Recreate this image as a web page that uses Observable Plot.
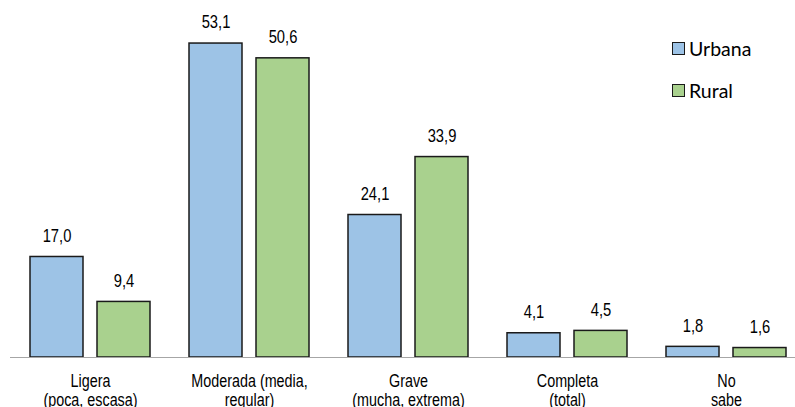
<!DOCTYPE html>
<html>
<head>
<meta charset="utf-8">
<script src="https://cdn.jsdelivr.net/npm/d3@7"></script>
<script src="https://cdn.jsdelivr.net/npm/@observablehq/plot@0.6"></script>
<style>
  html, body { margin: 0; padding: 0; background: #fff; }
  #wrap { position: relative; width: 795px; height: 407px; overflow: hidden; }
  #legend { position: absolute; left: 672px; top: 34px; font-family: Lato, "Open Sans", sans-serif; font-size: 19.5px; color: #000; }
  .li { display: flex; align-items: center; height: 28px; margin-bottom: 14px; }
  .sw { width: 11px; height: 11px; border: 1.6px solid #1a1a1a; margin-right: 4px; }
</style>
</head>
<body>
<div id="wrap"><div id="legend"></div></div>
<script>
const categories = ["Ligera\n(poca, escasa)", "Moderada (media,\nregular)", "Grave\n(mucha, extrema)", "Completa\n(total)", "No\nsabe"];
const seriesNames = ["Urbana", "Rural"];
const urbana = [17.0, 53.1, 24.1, 4.1, 1.8];
const rural = [9.4, 50.6, 33.9, 4.5, 1.6];
const colors = ["#9dc3e6", "#a9d18e"];

const rowsU = categories.map((c, i) => ({cat: c, value: urbana[i]}));
const rowsR = categories.map((c, i) => ({cat: c, value: rural[i]}));
const fmt = v => v.toFixed(1).replace(".", ",");
const font = "'Liberation Sans', Arial, sans-serif";

const chart = Plot.plot({
  width: 795,
  height: 407,
  marginTop: 0,
  marginBottom: 50,
  marginLeft: 10,
  marginRight: 0,
  x: {domain: categories, range: [30, 786], paddingInner: 39 / 159, paddingOuter: 0, axis: null},
  y: {domain: [0, 60.38], axis: null},
  style: {fontFamily: font, background: "#fff"},
  marks: [
    Plot.barY(rowsU, {x: "cat", y: "value", fill: colors[0], stroke: "#1a1a1a", strokeWidth: 1.5, insetRight: 67}),
    Plot.barY(rowsR, {x: "cat", y: "value", fill: colors[1], stroke: "#1a1a1a", strokeWidth: 1.5, insetLeft: 67}),
    Plot.ruleY([0], {stroke: "#a6a6a6", strokeWidth: 1.2}),
    Plot.text(rowsU, {x: "cat", y: "value", text: d => fmt(d.value), dx: -33.5, dy: -21, lineAnchor: "middle", fontSize: 18, fill: "#000"}),
    Plot.text(rowsR, {x: "cat", y: "value", text: d => fmt(d.value), dx: 33.5, dy: -21, lineAnchor: "middle", fontSize: 18, fill: "#000"}),
    Plot.text(categories, {x: d => d, text: d => d, frameAnchor: "bottom", dy: 33, lineAnchor: "middle", lineHeight: 1.07, fontSize: 17.5, fill: "#000"})
  ]
});
// condense text horizontally (narrow face of the original)
chart.querySelectorAll('g[aria-label="text"] text').forEach(t => {
  const tr = t.getAttribute("transform") || "";
  t.setAttribute("transform", tr + " scale(0.82,1)");
});
document.getElementById("wrap").prepend(chart);

const legend = document.getElementById("legend");
seriesNames.forEach((s, i) => {
  const row = document.createElement("div");
  row.className = "li";
  const sw = document.createElement("span");
  sw.className = "sw";
  sw.style.background = colors[i];
  const t = document.createElement("span");
  t.textContent = s;
  row.append(sw, t);
  legend.append(row);
});
</script>
</body>
</html>
